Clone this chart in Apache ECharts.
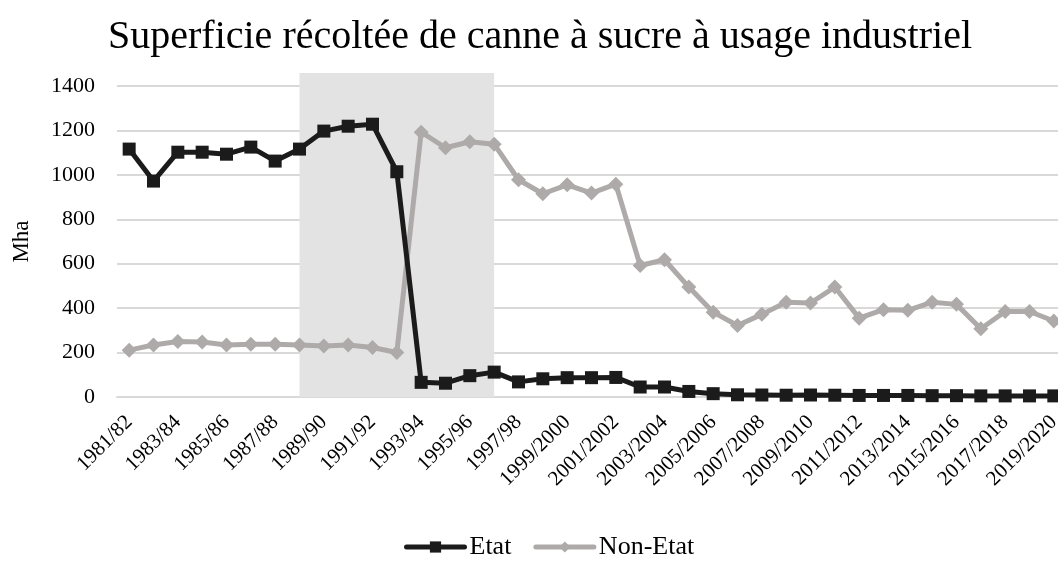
<!DOCTYPE html>
<html>
<head>
<meta charset="utf-8">
<script src="https://cdn.jsdelivr.net/npm/echarts@6/dist/echarts.min.js"></script>
<style>
  html, body { margin: 0; padding: 0; background: #fff; }
  #chart { width: 1058px; height: 567px; }
</style>
</head>
<body>
<div id="chart"></div>
<script>
var campagnes = [
  "1981/82", "1982/83", "1983/84", "1984/85", "1985/86", "1986/87", "1987/88", "1988/89",
  "1989/90", "1990/91", "1991/92", "1992/93", "1993/94", "1994/95", "1995/96", "1996/97",
  "1997/98", "1998/99", "1999/2000", "2000/2001", "2001/2002", "2002/2003", "2003/2004",
  "2004/2005", "2005/2006", "2006/2007", "2007/2008", "2008/2009", "2009/2010", "2010/2011",
  "2011/2012", "2012/2013", "2013/2014", "2014/2015", "2015/2016", "2016/2017", "2017/2018",
  "2018/2019", "2019/2020"
];
var etat = [
  1116, 972, 1102, 1102, 1093, 1125, 1062, 1116, 1197, 1219, 1228, 1014, 66, 62, 96, 112,
  68, 82, 87, 87, 88, 45, 45, 25, 15, 10, 9, 8, 9, 8, 7, 7, 7, 6, 6, 5, 5, 5, 5
];
var nonEtat = [
  211, 234, 250, 248, 234, 237, 238, 234, 230, 234, 223, 200, 1192, 1122, 1149, 1138,
  978, 915, 955, 918, 958, 592, 618, 495, 382, 322, 372, 427, 423, 495, 355, 393,
  390, 427, 417, 307, 385, 385, 342
];
// période mise en évidence (zone grisée)
var zoneDebut = "1988/89";
var zoneFin = "1996/97";

var serif = "Liberation Serif";
var chart = echarts.init(document.getElementById("chart"));
chart.setOption({
  animation: false,
  backgroundColor: "#ffffff",
  title: {
    text: "Superficie récoltée de canne à sucre à usage industriel",
    left: 103,
    top: 12,
    textStyle: { fontFamily: serif, fontWeight: "normal", fontSize: 40, color: "#000" }
  },
  legend: {
    bottom: 2,
    left: 399,
    itemWidth: 58,
    itemHeight: 14,
    itemGap: 22,
    lineStyle: { width: 5, cap: "round" },
    textStyle: { fontFamily: serif, fontSize: 26, color: "#000" },
    data: ["Etat", "Non-Etat"]
  },
  grid: [
    { left: 117, top: 86, bottom: 170, right: -8, outerBoundsMode: "none", containLabel: false },
    // grille de la zone grisée, un peu plus haute que le tracé
    { left: 117, top: 73, bottom: 170, right: -8, outerBoundsMode: "none", containLabel: false }
  ],
  xAxis: [
    {
      type: "category",
      data: campagnes,
      boundaryGap: true,
      axisLine: { lineStyle: { color: "#d9d9d9", width: 2 } },
      axisTick: { show: false },
      axisLabel: {
        interval: 1,
        rotate: 45,
        margin: 22,
        fontFamily: serif,
        fontSize: 21,
        color: "#000"
      }
    },
    { type: "category", data: campagnes, gridIndex: 1, show: false }
  ],
  yAxis: [
    {
      type: "value",
      min: 0,
      max: 1400,
      interval: 200,
      name: "Mha",
      nameLocation: "middle",
      nameGap: 84,
      nameTextStyle: { fontFamily: serif, fontSize: 23, color: "#000" },
      axisLine: { show: false },
      axisTick: { show: false },
      axisLabel: {
        fontFamily: serif,
        fontSize: 22,
        color: "#000",
        margin: 22,
        formatter: function (v) { return String(v); }
      },
      splitLine: { lineStyle: { color: "#d9d9d9", width: 2 } }
    },
    { type: "value", min: 0, max: 1, gridIndex: 1, show: false }
  ],
  series: [
    {
      name: "zone",
      type: "line",
      xAxisIndex: 1,
      yAxisIndex: 1,
      data: [],
      z: 0,
      silent: true,
      markArea: {
        silent: true,
        itemStyle: { color: "#e3e3e3" },
        data: [[{ xAxis: zoneDebut, yAxis: 0 }, { xAxis: zoneFin, yAxis: 1 }]]
      }
    },
    {
      name: "Etat",
      type: "line",
      data: etat,
      clip: false,
      symbol: "rect",
      symbolSize: 13,
      lineStyle: { color: "#1b1b1b", width: 5 },
      itemStyle: { color: "#1b1b1b" },
      z: 3
    },
    {
      name: "Non-Etat",
      type: "line",
      data: nonEtat,
      clip: false,
      symbol: "diamond",
      symbolSize: 15,
      lineStyle: { color: "#aeaaaa", width: 5 },
      itemStyle: { color: "#aeaaaa" },
      z: 2
    }
  ]
});
</script>
</body>
</html>
